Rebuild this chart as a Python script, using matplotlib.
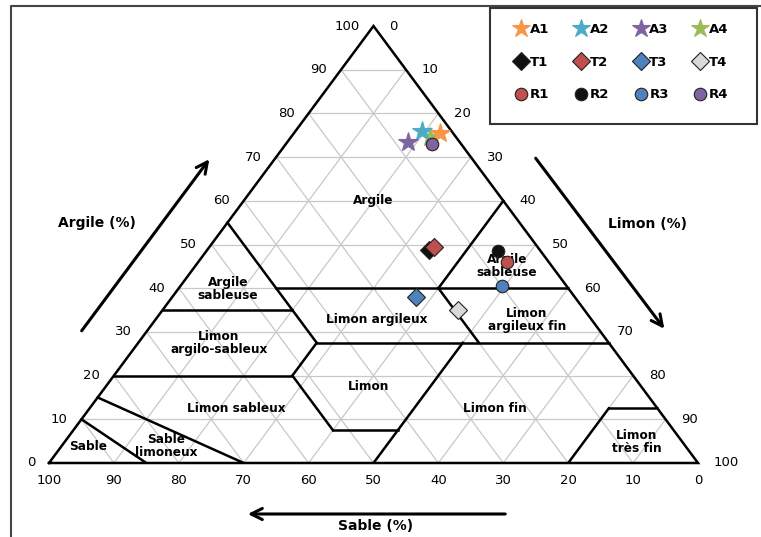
import numpy as np
import matplotlib.pyplot as plt
from matplotlib.lines import Line2D

# Sample compositions (%) : argile (clay) and limon (silt), sable is the rest
echantillons = ['A1', 'A2', 'A3', 'A4', 'T1', 'T2', 'T3', 'T4', 'R1', 'R2', 'R3', 'R4']
argile = np.array([75.5, 76.0, 73.5, 74.5, 48.8, 49.5, 38.0, 35.0, 46.0, 48.5, 40.5, 73.0])
limon = np.array([22.5, 19.5, 18.5, 21.5, 34.1, 34.5, 37.5, 45.5, 47.5, 45.0, 49.5, 22.5])
sable = 100 - argile - limon

marqueurs = ['*', '*', '*', '*', 'D', 'D', 'D', 'D', 'o', 'o', 'o', 'o']
couleurs = ['#F79646', '#4BACC6', '#8064A2', '#9BBB59',
            '#111111', '#C0504D', '#4F81BD', '#D9D9D9',
            '#C0504D', '#111111', '#4F81BD', '#8064A2']

# Texture class limits, each segment given as (argile, limon) end points
limites = [
    ((55, 0), (27.5, 27.5)),
    ((35, 0), (35, 20)),
    ((40, 15), (40, 60)),
    ((40, 40), (60, 40)),
    ((40, 40), (27.5, 52.5)),
    ((27.5, 27.5), (27.5, 72.5)),
    ((27.5, 27.5), (20, 27.5)),
    ((20, 0), (20, 27.5)),
    ((20, 27.5), (7.5, 40)),
    ((7.5, 40), (7.5, 50)),
    ((0, 50), (27.5, 50)),
    ((0, 80), (12.5, 80)),
    ((12.5, 80), (12.5, 87.5)),
    ((10, 0), (0, 15)),
    ((15, 0), (0, 30)),
]

classes = ['Argile', 'Argile\nsableuse', 'Limon\nargilo-sableux', 'Limon argileux',
           'Argile\nsableuse', 'Limon\nargileux fin', 'Limon', 'Limon sableux',
           'Limon fin', 'Limon\ntrès fin', 'Sable', 'Sable\nlimoneux']
graduations = np.arange(0, 101, 10)


def tern(c, l):
    # argile, limon -> plot coordinates
    c = np.asarray(c, dtype=float)
    l = np.asarray(l, dtype=float)
    return l + c / 2, c


def pix(px, py):
    # pixel position in the picture -> plot coordinates
    return (px - 49) / 6.49, (463 - py) / 4.37


fig = plt.figure(figsize=(7.61, 5.37), dpi=100)
ax = fig.add_axes([49 / 761, 74 / 537, 649 / 761, 437 / 537])
ax.set_xlim(0, 100)
ax.set_ylim(0, 100)
ax.axis('off')

# grey grid
grid = dict(color='#c8c8c8', lw=0.9, zorder=1)
for v in range(10, 100, 10):
    ax.plot(*tern([v, v], [0, 100 - v]), **grid)      # argile constant
    ax.plot(*tern([0, 100 - v], [v, v]), **grid)      # limon constant
    ax.plot(*tern([0, 100 - v], [100 - v, 0]), **grid)  # sable constant

# triangle
ax.plot(*tern([0, 0, 100, 0], [0, 100, 0, 0]), color='black', lw=1.8, zorder=3,
        solid_joinstyle='miter', clip_on=False)

for (c1, l1), (c2, l2) in limites:
    ax.plot(*tern([c1, c2], [l1, l2]), color='black', lw=1.8, zorder=3)

# class names
pos_classes = [(373, 200), (228, 289), (219, 343), (377, 320), (507, 266), (527, 320),
               (369, 386), (236, 409), (495, 408), (637, 442), (88, 446), (166, 446)]
for nom, (px, py) in zip(classes, pos_classes):
    ax.text(*pix(px, py), nom, ha='center', va='center', fontsize=8.7, fontweight='bold',
            linespacing=1.05, zorder=4)

# tick labels
for v in graduations:
    ax.annotate(str(v), tern(v, 0), xytext=(-14, 0), textcoords='offset pixels',
                ha='right', va='center', fontsize=9.5, annotation_clip=False)
    ax.annotate(str(v), tern(100 - v, v), xytext=(16, 0), textcoords='offset pixels',
                ha='left', va='center', fontsize=9.5, annotation_clip=False)
    ax.annotate(str(v), tern(0, 100 - v), xytext=(0, -17), textcoords='offset pixels',
                ha='center', va='center', fontsize=9.5, annotation_clip=False)

# axis titles and arrows
fleche = dict(arrowstyle='->', lw=2.2, color='black', mutation_scale=20)
ax.annotate('', xy=pix(211, 157), xytext=pix(80, 333), arrowprops=fleche, annotation_clip=False)
ax.annotate('', xy=pix(666, 331), xytext=pix(534, 156), arrowprops=fleche, annotation_clip=False)
ax.annotate('', xy=pix(245, 514), xytext=pix(508, 514), arrowprops=fleche, annotation_clip=False)
ax.text(*pix(97, 223), 'Argile (%)', ha='center', va='center', fontsize=10, fontweight='bold')
ax.text(*pix(648, 224), 'Limon (%)', ha='center', va='center', fontsize=10, fontweight='bold')
ax.text(*pix(376, 526), 'Sable (%)', ha='center', va='center', fontsize=10, fontweight='bold',
        clip_on=False)

# samples
tailles = {'*': 15, 'D': 9, 'o': 9}
ordre = [4, 5, 6, 7, 9, 8, 10, 3, 0, 1, 2, 11]
for i in ordre:
    x, y = tern(argile[i], limon[i])
    ax.plot(x, y, marker=marqueurs[i], ms=tailles[marqueurs[i]], color=couleurs[i],
            mec='#222222' if marqueurs[i] != '*' else couleurs[i], mew=0.8,
            ls='none', zorder=5, clip_on=False)

# legend (row-wise order)
tailles_leg = {'*': 13.5, 'D': 9, 'o': 9}
poignees = []
for i in range(len(echantillons)):
    poignees.append(Line2D([], [], marker=marqueurs[i], ls='none', color=couleurs[i],
                           ms=tailles_leg[marqueurs[i]],
                           mec='#222222' if marqueurs[i] != '*' else couleurs[i], mew=0.8))
ordre_leg = [0, 4, 8, 1, 5, 9, 2, 6, 10, 3, 7, 11]
fig.legend([poignees[i] for i in ordre_leg], [echantillons[i] for i in ordre_leg],
           ncol=4, loc='upper left', bbox_to_anchor=(503 / 761, 1 - 11 / 537),
           frameon=False, prop={'weight': 'bold', 'size': 9.5}, handlelength=1.0,
           handletextpad=0.15, columnspacing=1.9, labelspacing=1.5)
fig.add_artist(plt.Rectangle((490 / 761, 1 - 124 / 537), 267 / 761, 116 / 537,
                             transform=fig.transFigure, fill=False, ec='#333333', lw=1.5))

# outer frame (left and top)
fig.add_artist(Line2D([11 / 761, 11 / 761, 1], [0, 1 - 6 / 537, 1 - 6 / 537],
                      transform=fig.transFigure, color='#444444', lw=1.5))

fig.savefig('out.png', dpi=100)
